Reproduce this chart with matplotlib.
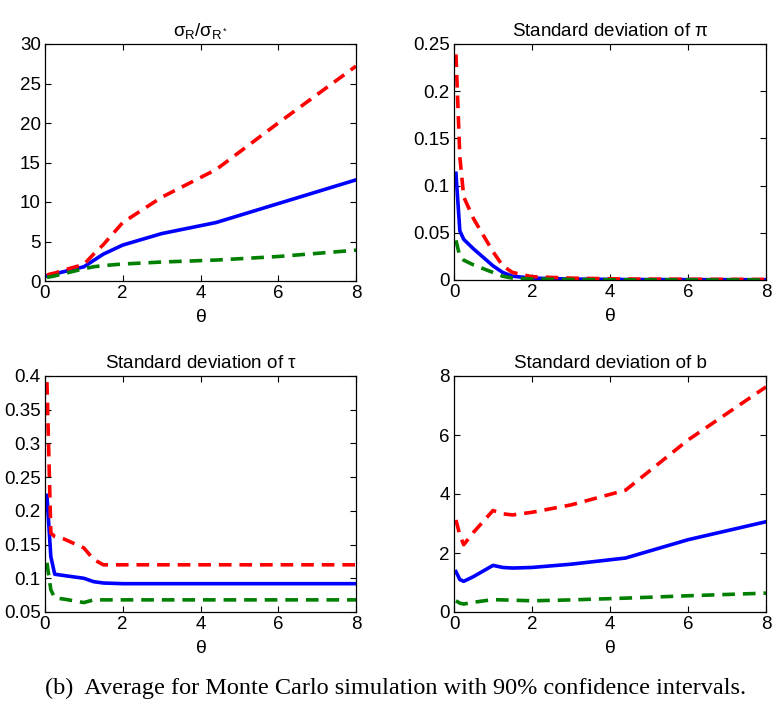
import numpy as np
import matplotlib
matplotlib.use('Agg')
import matplotlib.pyplot as plt

plt.rcParams['font.family'] = ['Liberation Sans', 'DejaVu Sans']
plt.rcParams['mathtext.fontset'] = 'custom'
plt.rcParams['mathtext.rm'] = 'Liberation Sans'
plt.rcParams['mathtext.it'] = 'Liberation Sans'

# theta grid used in the simulation
theta = [0.05, 0.15, 0.25, 0.5, 1.0, 1.25, 1.5, 2.0, 3.0, 4.4, 6.0, 8.0]

# sigma_R / sigma_R*
ratio_mean = [0.65, 0.8, 0.9, 1.2, 1.8, 2.6, 3.4, 4.55, 6.0, 7.4, 9.8, 12.8]
ratio_hi = [0.75, 0.9, 1.0, 1.4, 2.1, 3.4, 4.6, 7.4, 10.6, 14.1, 20.0, 27.2]
ratio_lo = [0.45, 0.55, 0.65, 0.95, 1.55, 1.8, 1.95, 2.15, 2.4, 2.65, 3.1, 3.9]

# standard deviation of pi
pi_mean = [0.113, 0.052, 0.043, 0.033, 0.015, 0.008, 0.004, 0.002, 0.001, 0.0005, 0.0004, 0.0003]
pi_hi = [0.239, 0.13, 0.088, 0.065, 0.03, 0.015, 0.008, 0.0035, 0.002, 0.001, 0.0008, 0.0006]
pi_lo = [0.042, 0.025, 0.021, 0.016, 0.008, 0.004, 0.002, 0.001, 0.0005, 0.0002, 0.0001, 0.0001]

# standard deviation of tau
tau_mean = [0.223, 0.132, 0.106, 0.104, 0.100, 0.095, 0.093, 0.092, 0.092, 0.092, 0.092, 0.092]
tau_hi = [0.391, 0.167, 0.162, 0.158, 0.145, 0.128, 0.12, 0.12, 0.12, 0.12, 0.12, 0.12]
tau_lo = [0.123, 0.083, 0.071, 0.069, 0.064, 0.068, 0.068, 0.068, 0.068, 0.068, 0.068, 0.068]

# standard deviation of b
b_mean = [1.37, 1.1, 1.04, 1.2, 1.58, 1.51, 1.49, 1.51, 1.62, 1.83, 2.45, 3.06]
b_hi = [3.12, 2.6, 2.28, 2.7, 3.44, 3.33, 3.29, 3.38, 3.63, 4.13, 5.83, 7.63]
b_lo = [0.38, 0.3, 0.27, 0.33, 0.42, 0.41, 0.40, 0.38, 0.41, 0.47, 0.55, 0.64]

titles = [r'$\sigma_\mathrm{R}/\sigma_{\mathrm{R}^*}$', r'Standard deviation of $\pi$',
          r'Standard deviation of $\tau$', 'Standard deviation of b']
series = [(ratio_mean, ratio_hi, ratio_lo), (pi_mean, pi_hi, pi_lo),
          (tau_mean, tau_hi, tau_lo), (b_mean, b_hi, b_lo)]
ylims = [(0, 30), (0, 0.25), (0.05, 0.4), (0, 8)]
yticks = [np.arange(0, 31, 5), [0, 0.05, 0.1, 0.15, 0.2, 0.25],
          [0.05, 0.1, 0.15, 0.2, 0.25, 0.3, 0.35, 0.4], [0, 2, 4, 6, 8]]
ylabels = [None, ['0', '0.05', '0.1', '0.15', '0.2', '0.25'],
           ['0.05', '0.1', '0.15', '0.2', '0.25', '0.3', '0.35', '0.4'], None]

fig = plt.figure(figsize=(7.77, 7.04), dpi=100)
W, H = 777, 704
boxes = [(45, 44, 356, 281), (454, 44, 766, 280), (45, 376, 356, 612), (454, 376, 766, 612)]

for i, (x0, y0, x1, y1) in enumerate(boxes):
    ax = fig.add_axes([x0 / W, 1 - y1 / H, (x1 - x0) / W, (y1 - y0) / H])
    mean, hi, lo = series[i]
    ax.plot(theta, mean, color='#0000ff', lw=2.6)
    ax.plot(theta, hi, color='#ff0000', lw=2.6, ls=(0, (3.5, 2.2)))
    ax.plot(theta, lo, color='#007f00', lw=2.6, ls=(0, (3.5, 2.2)))
    ax.set_xlim(0, 8)
    ax.set_ylim(*ylims[i])
    ax.set_xticks([0, 2, 4, 6, 8])
    ax.set_yticks(yticks[i])
    if ylabels[i] is not None:
        ax.set_yticklabels(ylabels[i])
    ax.tick_params(direction='in', top=True, right=True, labelsize=13.5, length=4.5, width=0.8, pad=3)
    for s in ax.spines.values():
        s.set_linewidth(0.9)
    ax.set_title(titles[i], fontsize=13.5, pad=6)
    ax.set_xlabel(r'$\theta$', fontsize=14, labelpad=5)

fig.text(395.5 / W, 1 - 688 / H, '(b)  Average for Monte Carlo simulation with 90% confidence intervals.',
         ha='center', va='center', fontsize=17.5, family='Liberation Serif')

fig.savefig('out.png', dpi=100)
